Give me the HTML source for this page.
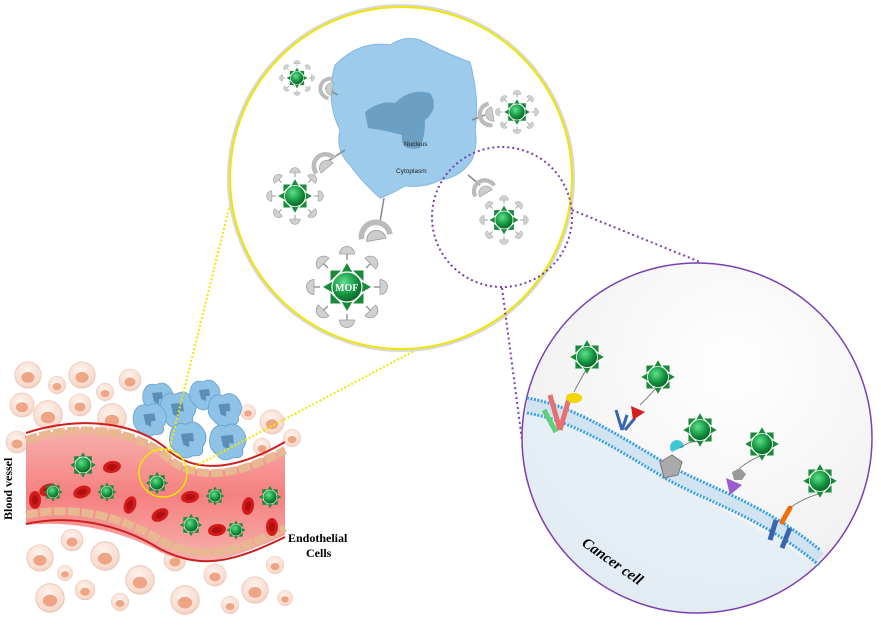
<!DOCTYPE html>
<html><head><meta charset="utf-8"><style>
html,body{margin:0;padding:0;background:#fff;width:881px;height:625px;overflow:hidden}
svg{display:block}
</style></head><body>
<svg width="881" height="625" viewBox="0 0 881 625" xmlns="http://www.w3.org/2000/svg">
<defs>
<radialGradient id="gs" cx="0.4" cy="0.35" r="0.7"><stop offset="0" stop-color="#5fe08a"/><stop offset="0.6" stop-color="#12933f"/><stop offset="1" stop-color="#0a5a25"/></radialGradient>
<radialGradient id="cell" cx="0.45" cy="0.35" r="0.75"><stop offset="0" stop-color="#fdf3ee"/><stop offset="0.7" stop-color="#f8dccf"/><stop offset="1" stop-color="#efbfa9"/></radialGradient>
<radialGradient id="ca" cx="0.6" cy="0.3" r="0.8"><stop offset="0" stop-color="#ffffff"/><stop offset="0.7" stop-color="#f2f2f2"/><stop offset="1" stop-color="#d8d8d8"/></radialGradient>
<linearGradient id="ves" x1="0" y1="0" x2="0" y2="1"><stop offset="0" stop-color="#f7b1ae"/><stop offset="0.5" stop-color="#f58080"/><stop offset="1" stop-color="#f7b1ae"/></linearGradient>
<clipPath id="cc"><circle cx="697" cy="438" r="174"/></clipPath>
<g id="mof">
 <g fill="#1a8a3a">
  <polygon points="0,-16 -4,-9 4,-9"/><polygon points="0,16 -4,9 4,9"/><polygon points="-16,0 -9,-4 -9,4"/><polygon points="16,0 9,-4 9,4"/>
  <polygon points="11,-11 4,-11 11,-4"/><polygon points="-11,-11 -4,-11 -11,-4"/><polygon points="11,11 4,11 11,4"/><polygon points="-11,11 -4,11 -11,4"/>
 </g>
 <circle r="10" fill="url(#gs)" stroke="#fff" stroke-width="0.8"/>
</g>
<g id="cap"><path d="M-5,0 A5,5 0 0 1 5,0 Z" fill="#d0d0d0" stroke="#999" stroke-width="0.5"/><line x1="0" y1="0" x2="0" y2="4" stroke="#999"/></g>
<g id="mofc">
  <use href="#cap" transform="rotate(0) translate(0,-22)"/><use href="#cap" transform="rotate(45) translate(0,-22)"/><use href="#cap" transform="rotate(90) translate(0,-22)"/><use href="#cap" transform="rotate(135) translate(0,-22)"/>
  <use href="#cap" transform="rotate(180) translate(0,-22)"/><use href="#cap" transform="rotate(225) translate(0,-22)"/><use href="#cap" transform="rotate(270) translate(0,-22)"/><use href="#cap" transform="rotate(315) translate(0,-22)"/>
 <use href="#mof"/>
</g>
<g id="c"><circle r="11" fill="url(#cell)" stroke="#e8c2b0" stroke-width="0.6"/><ellipse cx="0" cy="2" rx="5.5" ry="4.5" fill="#eea585"/></g>
<g id="rbc"><ellipse rx="6" ry="9" fill="#d21c1c"/><ellipse rx="3" ry="5" fill="#b00f0f"/></g>
<g id="blue"><path d="M-14,-8 Q-10,-16 -2,-13 Q6,-18 12,-10 Q18,-2 12,6 Q14,14 4,13 Q-4,18 -10,10 Q-18,4 -14,-8Z" fill="#8ec2e6" stroke="#6aa6d0" stroke-width="0.8"/><path d="M-6,-5 L4,-6 L5,1 L1,1 L1,6 L-4,4 Z" fill="#5b8fb8"/></g>
<g id="rec"><path d="M-9,3 A9,9 0 0 1 9,3" fill="none" stroke="#bbb" stroke-width="3.5"/><path d="M-6,5 A6,6 0 0 1 6,5 Z" fill="#ccc" stroke="#999" stroke-width="0.5"/></g>
</defs>

<!-- tissue cells background -->
<g>
<use href="#c" transform="translate(28,375) scale(1.2)"/><use href="#c" transform="translate(57,385) scale(0.8)"/><use href="#c" transform="translate(82,375) scale(1.2)"/><use href="#c" transform="translate(105,392) scale(0.8)"/><use href="#c" transform="translate(130,380) scale(1)"/>
<use href="#c" transform="translate(22,405) scale(1.1)"/><use href="#c" transform="translate(48,415) scale(1.3)"/><use href="#c" transform="translate(80,405) scale(1)"/><use href="#c" transform="translate(112,418) scale(1.3)"/>
<use href="#c" transform="translate(17,442) scale(1)"/><use href="#c" transform="translate(248,412) scale(0.7)"/><use href="#c" transform="translate(272,422) scale(1.1)"/><use href="#c" transform="translate(262,447) scale(0.8)"/><use href="#c" transform="translate(292,438) scale(0.8)"/>
<use href="#c" transform="translate(40,558) scale(1.2)"/><use href="#c" transform="translate(72,540) scale(1)"/><use href="#c" transform="translate(105,556) scale(1.3)"/><use href="#c" transform="translate(65,573) scale(0.7)"/>
<use href="#c" transform="translate(50,598) scale(1.3)"/><use href="#c" transform="translate(85,590) scale(0.9)"/><use href="#c" transform="translate(140,580) scale(1.3)"/><use href="#c" transform="translate(175,560) scale(1)"/><use href="#c" transform="translate(120,602) scale(0.8)"/>
<use href="#c" transform="translate(185,600) scale(1.3)"/><use href="#c" transform="translate(215,575) scale(1)"/><use href="#c" transform="translate(230,605) scale(0.8)"/><use href="#c" transform="translate(255,590) scale(1.2)"/><use href="#c" transform="translate(275,565) scale(0.8)"/><use href="#c" transform="translate(285,598) scale(0.7)"/>
</g>
<!-- immune cells cluster -->
<use href="#blue" transform="translate(158,398)"/><use href="#blue" transform="translate(178,410) scale(1.2)"/><use href="#blue" transform="translate(205,395)"/><use href="#blue" transform="translate(225,410) scale(1.1)"/>
<use href="#blue" transform="translate(150,420) scale(1.1)"/><use href="#blue" transform="translate(188,440) scale(1.2)"/><use href="#blue" transform="translate(228,442) scale(1.2)"/>

<!-- vessel -->
<path d="M26,440 C80,418 140,430 170,458 C200,480 240,470 285,448 L285,535 C230,560 200,570 160,552 C120,530 70,520 26,525 Z" fill="url(#ves)"/>
<path d="M26,433 C80,415 140,422 170,452 C200,475 240,468 285,442" fill="none" stroke="#cf1e1e" stroke-width="2"/>
<path d="M26,440 C80,422 140,430 170,460 C200,482 240,475 285,450" fill="none" stroke="#e8b890" stroke-width="8" stroke-dasharray="12,2"/>
<path d="M26,515 C70,505 120,515 160,540 C200,560 230,555 285,528" fill="none" stroke="#e8b890" stroke-width="8" stroke-dasharray="12,2"/>
<path d="M26,524 C70,514 120,524 160,549 C200,569 230,564 285,537" fill="none" stroke="#cf1e1e" stroke-width="2"/>
<use href="#rbc" transform="translate(48,490) rotate(70)"/><use href="#rbc" transform="translate(112,467) rotate(80)"/><use href="#rbc" transform="translate(35,500)"/><use href="#rbc" transform="translate(82,492) rotate(70)"/><use href="#rbc" transform="translate(130,505) rotate(20)"/><use href="#rbc" transform="translate(160,515) rotate(60)"/><use href="#rbc" transform="translate(190,497) rotate(80)"/><use href="#rbc" transform="translate(217,530) rotate(80)"/><use href="#rbc" transform="translate(248,506) rotate(10)"/><use href="#rbc" transform="translate(272,527)"/>
<use href="#mof" transform="translate(83,465) scale(0.8)"/><use href="#mof" transform="translate(53,492) scale(0.6)"/><use href="#mof" transform="translate(107,492) scale(0.6)"/><use href="#mof" transform="translate(157,483) scale(0.7)"/><use href="#mof" transform="translate(215,496) scale(0.6)"/><use href="#mof" transform="translate(191,525) scale(0.7)"/><use href="#mof" transform="translate(236,530) scale(0.6)"/><use href="#mof" transform="translate(270,497) scale(0.7)"/>
<circle cx="163" cy="473" r="24" fill="none" stroke="#f0e600" stroke-width="1.5"/>
<text x="0" y="0" transform="translate(12,520) rotate(-90)" font-family="Liberation Serif, serif" font-weight="bold" font-size="12">Blood vessel</text>
<text x="288" y="542" font-family="Liberation Serif, serif" font-weight="bold" font-size="12">Endothelial</text>
<text x="306" y="557" font-family="Liberation Serif, serif" font-weight="bold" font-size="12">Cells</text>

<!-- yellow dotted lines -->
<line x1="168" y1="455" x2="238" y2="172" stroke="#f0e600" stroke-width="2" stroke-dasharray="2,2"/>
<line x1="192" y1="468" x2="420" y2="348" stroke="#f0e600" stroke-width="2" stroke-dasharray="2,2"/>

<!-- big yellow circle -->
<circle cx="401" cy="178" r="172" fill="#fff" stroke="#d8d8d8" stroke-width="4"/>
<circle cx="401" cy="178" r="171" fill="none" stroke="#f0e600" stroke-width="2"/>
<path d="M335,65 Q360,40 390,45 Q405,35 420,40 Q450,55 470,62 Q480,100 475,130 Q478,145 472,160 Q460,178 440,180 Q425,188 405,186 Q390,195 380,198 Q360,180 350,165 Q335,150 340,130 Q325,100 335,65Z" fill="#9ccbeb" stroke="#86b8dc"/>
<path d="M365,112 Q380,100 395,103 Q410,88 430,93 Q440,108 425,120 Q425,138 420,148 Q400,152 402,135 Q385,130 368,128Z" fill="#6b9fc4"/>
<text x="404" y="146" font-family="Liberation Sans, sans-serif" font-size="6.5" fill="#222">Nucleus</text>
<text x="396" y="173" font-family="Liberation Sans, sans-serif" font-size="6.5" fill="#222">Cytoplasm</text>
<g stroke="#888" stroke-width="1.5">
<line x1="345" y1="150" x2="325" y2="163"/><line x1="384" y1="198" x2="380" y2="222"/><line x1="338" y1="95" x2="325" y2="88"/><line x1="472" y1="120" x2="485" y2="115"/><line x1="468" y1="175" x2="480" y2="185"/>
</g>
<use href="#rec" transform="translate(323,163) rotate(-40) scale(1.3)"/><use href="#rec" transform="translate(375,232) rotate(-10) scale(1.6)"/><use href="#rec" transform="translate(327,88) rotate(-80) scale(1.1)"/><use href="#rec" transform="translate(487,115) rotate(-100) scale(1.2)"/><use href="#rec" transform="translate(483,188) rotate(-30) scale(1.2)"/>
<use href="#mofc" transform="translate(297,78) scale(0.65)"/>
<use href="#mofc" transform="translate(517,112) scale(0.8)"/>
<use href="#mofc" transform="translate(295,196) scale(1.05)"/>
<use href="#mofc" transform="translate(504,220) scale(0.9)"/>
<use href="#mofc" transform="translate(347,287) scale(1.5)"/>
<text x="335" y="291" font-family="Liberation Serif, serif" font-weight="bold" font-size="10" fill="#fff">MOF</text>

<!-- purple dotted -->
<circle cx="502" cy="217" r="70" fill="none" stroke="#7a3fb0" stroke-width="2" stroke-dasharray="2,3"/>
<line x1="502" y1="288" x2="522" y2="440" stroke="#7a3fb0" stroke-width="2" stroke-dasharray="2,3"/>
<line x1="572" y1="210" x2="700" y2="262" stroke="#7a3fb0" stroke-width="2" stroke-dasharray="2,3"/>

<!-- cancer cell -->
<circle cx="697" cy="438" r="175" fill="url(#ca)"/>
<g clip-path="url(#cc)">
<path d="M520,410 C570,420 610,450 660,475 C700,500 760,525 830,575 L830,640 L520,640Z" fill="#e4edf6" opacity="0.85"/>
</g>
<circle cx="697" cy="438" r="175" fill="none" stroke="#7a3fb0" stroke-width="1.5"/>
<path d="M527,405 C570,412 610,437 660,467 C700,492 760,507 820,558" fill="none" stroke="#c8dff0" stroke-width="12" opacity="0.8"/>
<path d="M527,398 C570,405 610,430 660,460 C700,485 760,500 820,550" fill="none" stroke="#3aa0e0" stroke-width="3" stroke-dasharray="2,1.5"/>
<path d="M527,413 C570,420 610,445 660,475 C700,500 760,515 820,566" fill="none" stroke="#3aa0e0" stroke-width="3" stroke-dasharray="2,1.5"/>
<!-- receptors -->
<path d="M550,395 L560,430 M570,395 L560,430" stroke="#e86f6f" stroke-width="5" fill="none"/><path d="M544,410 L556,432" stroke="#5fd07a" stroke-width="5"/>
<ellipse cx="574" cy="398" rx="8" ry="5" fill="#f0d800"/>
<path d="M627,415 L622,430 M616,410 L622,430 M635,418 L625,430" stroke="#3a64b0" stroke-width="3" fill="none"/>
<polygon points="631,406 645,412 633,420" fill="#d42020"/>
<polygon points="660,462 672,455 682,462 678,475 664,478" fill="#aaa" stroke="#777"/>
<path d="M672,452 a7,7 0 1 1 12,-5 l-6,2z" fill="#3dc8d8"/>
<path d="M726,478 L730,495 L742,485 Z" fill="#9a5ad0"/>
<polygon points="732,472 740,468 746,474 742,480 734,480" fill="#999"/>
<path d="M776,520 L770,540 M790,528 L782,548" stroke="#3a64b0" stroke-width="5" fill="none"/>
<line x1="782" y1="522" x2="790" y2="508" stroke="#f07010" stroke-width="5" stroke-linecap="round"/>
<g stroke="#666" stroke-width="0.8" fill="none">
<path d="M574,392 Q580,380 586,370"/><path d="M640,405 Q650,395 656,388"/><path d="M680,448 Q690,440 700,442"/><path d="M740,468 Q750,460 760,456"/><path d="M790,508 Q800,500 818,494"/>
</g>
<use href="#mof" transform="translate(587,357) scale(1.05)"/><use href="#mof" transform="translate(658,377) scale(1.05)"/><use href="#mof" transform="translate(700,430) scale(1.05)"/><use href="#mof" transform="translate(762,444) scale(1.05)"/><use href="#mof" transform="translate(820,481) scale(1.05)"/>
<text transform="translate(581,545) rotate(35)" font-family="Liberation Serif, serif" font-weight="bold" font-style="italic" font-size="15">Cancer cell</text>
</svg>
</body></html>
